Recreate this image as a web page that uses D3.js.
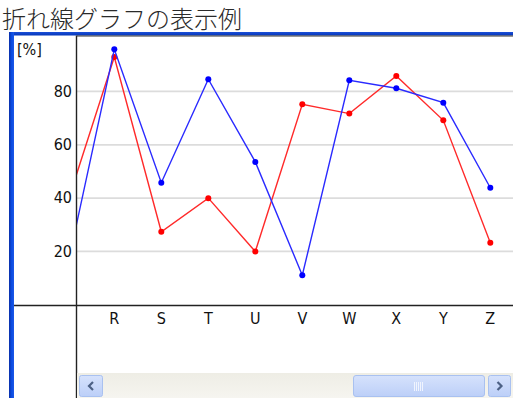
<!DOCTYPE html>
<html>
<head>
<meta charset="utf-8">
<script src="https://cdn.jsdelivr.net/npm/d3@7/dist/d3.min.js"></script>
<style>
  html, body { margin: 0; padding: 0; background: #fff; }
  svg { display: block; }
</style>
</head>
<body>
<svg id="chart" width="513" height="398"></svg>
<script>
// Categories along the scrolled x axis (Q sits just left of the visible window)
const categories = ["Q", "R", "S", "T", "U", "V", "W", "X", "Y", "Z"];
// Two series, in percent
const seriesRed  = [38, 92.7, 27.2, 39.8, 19.8, 75.0, 71.5, 85.6, 69.0, 23.1];
const seriesBlue = [14, 95.6, 45.6, 84.4, 53.4, 10.9, 84.0, 81.0, 75.6, 43.7];
const yTicks = [20, 40, 60, 80];
const titleText = "折れ線グラフの表示例";
const unitText = "[%]";

const svg = d3.select("#chart");
const W = 513, H = 398;

// Frame geometry
const frameLeft = 14, frameTop = 35.5;
const plotLeft = 77, plotRight = W, plotTop = 36, plotBottom = 305;
const scrollTop = 373;
const labelFont = "'DejaVu Sans Condensed', 'DejaVu Sans'";

const x = d3.scaleLinear().domain([0, categories.length - 1]).range([67.3, 490.3]);
const y = d3.scaleLinear().domain([0, 100]).range([304.3, 37.6]);

// Title
svg.append("text")
  .attr("x", 2).attr("y", 27.5)
  .attr("font-family", "'Noto Sans CJK JP'")
  .attr("font-weight", 300)
  .attr("font-size", 24)
  .attr("fill", "#2a2a2a")
  .text(titleText);

// Window frame: blue left and top border
const defs = svg.append("defs");
const gradV = defs.append("linearGradient").attr("id", "blueV").attr("x1", 0).attr("x2", 1).attr("y1", 0).attr("y2", 0);
gradV.append("stop").attr("offset", "0%").attr("stop-color", "#0a2fa8");
gradV.append("stop").attr("offset", "50%").attr("stop-color", "#0a4be0");
gradV.append("stop").attr("offset", "100%").attr("stop-color", "#1c58e8");
const gradH = defs.append("linearGradient").attr("id", "blueH").attr("x1", 0).attr("x2", 0).attr("y1", 0).attr("y2", 1);
gradH.append("stop").attr("offset", "0%").attr("stop-color", "#1a4fd8");
gradH.append("stop").attr("offset", "100%").attr("stop-color", "#0636b8");

svg.append("rect").attr("x", 9).attr("y", 32).attr("width", W - 9).attr("height", 3.5).attr("fill", "url(#blueH)");
svg.append("rect").attr("x", 9).attr("y", 32).attr("width", 5).attr("height", H - 32).attr("fill", "url(#blueV)");

// Thin dark edge under the top border over the plot
svg.append("line")
  .attr("x1", plotLeft).attr("x2", W).attr("y1", frameTop + 0.5).attr("y2", frameTop + 0.5)
  .attr("stroke", "#333").attr("stroke-width", 1);

// Gridlines and y labels
const yAxis = d3.axisLeft(y).tickValues(yTicks).tickSize(0).tickPadding(0);
const gy = svg.append("g").attr("transform", `translate(${plotLeft},0)`).call(yAxis);
gy.select(".domain").remove();
gy.selectAll(".tick line")
  .attr("x2", plotRight - plotLeft)
  .attr("stroke", "#dcdcdc").attr("stroke-width", 1.7);
gy.selectAll(".tick text")
  .attr("x", -5)
  .attr("font-family", labelFont)
  .attr("font-size", 16)
  .attr("fill", "#111");

// Unit label
svg.append("text")
  .attr("x", 17).attr("y", 55)
  .attr("font-family", labelFont)
  .attr("font-size", 16)
  .attr("fill", "#111")
  .text(unitText);

// Series lines and markers, clipped to the plot window
defs.append("clipPath").attr("id", "plotClip")
  .append("rect").attr("x", plotLeft).attr("y", plotTop).attr("width", plotRight - plotLeft).attr("height", plotBottom - plotTop);

const plot = svg.append("g").attr("clip-path", "url(#plotClip)");
const line = d3.line().x((d, i) => x(i)).y(d => y(d));

const series = [
  { values: seriesRed, color: "#ff2a2a", dot: "#ff0000" },
  { values: seriesBlue, color: "#2a2aff", dot: "#0000ff" }
];
series.forEach(s => {
  plot.append("path")
    .datum(s.values)
    .attr("d", line)
    .attr("fill", "none")
    .attr("stroke", s.color)
    .attr("stroke-width", 1.4);
  plot.selectAll(null)
    .data(s.values)
    .join("circle")
    .attr("cx", (d, i) => x(i))
    .attr("cy", d => y(d))
    .attr("r", 3)
    .attr("fill", s.dot);
});

// Axis frame lines
svg.append("line")
  .attr("x1", frameLeft).attr("x2", W).attr("y1", plotBottom + 0.5).attr("y2", plotBottom + 0.5)
  .attr("stroke", "#222").attr("stroke-width", 1.4);
svg.append("line")
  .attr("x1", plotLeft - 0.5).attr("x2", plotLeft - 0.5).attr("y1", frameTop).attr("y2", H)
  .attr("stroke", "#222").attr("stroke-width", 1.4);

// X labels
defs.append("clipPath").attr("id", "labelClip")
  .append("rect").attr("x", plotLeft).attr("y", plotBottom).attr("width", plotRight - plotLeft).attr("height", scrollTop - plotBottom);
const xLabels = svg.append("g").attr("clip-path", "url(#labelClip)");
xLabels.selectAll("text")
  .data(categories)
  .join("text")
  .attr("x", (d, i) => x(i))
  .attr("y", 323.5)
  .attr("text-anchor", "middle")
  .attr("font-family", labelFont)
  .attr("font-size", 16)
  .attr("fill", "#111")
  .text(d => d);

// Horizontal scrollbar
const track = defs.append("linearGradient").attr("id", "track").attr("x1", 0).attr("x2", 0).attr("y1", 0).attr("y2", 1);
track.append("stop").attr("offset", "0%").attr("stop-color", "#eeede5");
track.append("stop").attr("offset", "100%").attr("stop-color", "#f6f5f0");
const btn = defs.append("linearGradient").attr("id", "btn").attr("x1", 0).attr("x2", 0).attr("y1", 0).attr("y2", 1);
btn.append("stop").attr("offset", "0%").attr("stop-color", "#d6e2fc");
btn.append("stop").attr("offset", "100%").attr("stop-color", "#bccff8");

svg.append("rect").attr("x", plotLeft).attr("y", scrollTop).attr("width", W - plotLeft).attr("height", H - scrollTop).attr("fill", "url(#track)");

function button(x0, w, dir) {
  svg.append("rect").attr("x", x0 + 0.5).attr("y", 375.5).attr("width", w).attr("height", 21)
    .attr("rx", 2).attr("fill", "url(#btn)").attr("stroke", "#a9c1f0");
  const cx = x0 + w / 2 + 0.5, cy = 386;
  const pts = dir < 0
    ? [[cx + 2, cy - 4], [cx - 2, cy], [cx + 2, cy + 4]]
    : [[cx - 2, cy - 4], [cx + 2, cy], [cx - 2, cy + 4]];
  svg.append("path").attr("d", d3.line()(pts)).attr("fill", "none")
    .attr("stroke", "#4d6185").attr("stroke-width", 2.2);
}
button(79, 23, -1);
button(488, 22, 1);

// Thumb with grip
svg.append("rect").attr("x", 353.5).attr("y", 375.5).attr("width", 131).attr("height", 21)
  .attr("rx", 2.5).attr("fill", "url(#btn)").attr("stroke", "#a9c1f0");
for (let k = 0; k < 5; k++) {
  svg.append("line")
    .attr("x1", 414.5 + k * 2).attr("x2", 414.5 + k * 2).attr("y1", 382).attr("y2", 391)
    .attr("stroke", "#f0f4fe").attr("stroke-width", 1);
}
</script>
</body>
</html>
